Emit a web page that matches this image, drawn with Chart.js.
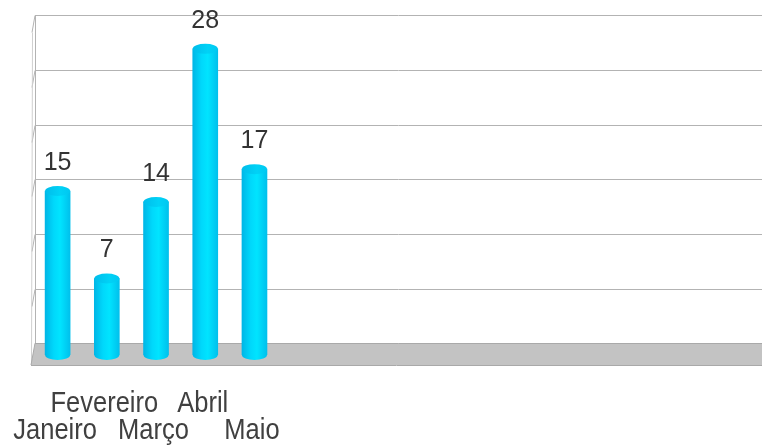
<!DOCTYPE html>
<html>
<head>
<meta charset="utf-8">
<script src="https://cdn.jsdelivr.net/npm/chart.js@4/dist/chart.umd.min.js"></script>
<style>
  html, body { margin: 0; padding: 0; background: #ffffff; }
  #wrap { width: 762px; height: 446px; }
</style>
</head>
<body>
<div id="wrap"><canvas id="c" width="762" height="446"></canvas></div>
<script>
// Monthly totals
const months = ['Janeiro', 'Fevereiro', 'Março', 'Abril', 'Maio'];
const values = [15, 7, 14, 28, 17];
const slotCount = 14;            // category slots along the floor
const yTicks = [0, 5, 10, 15, 20, 25, 30];

const labels = [];
for (let i = 0; i < slotCount; i++) labels.push(i < months.length ? months[i] : '');
const data = labels.map((_, i) => (i < values.length ? values[i] : null));

const DEPTH_DY = 11.7;   // back wall sits this far above the front plane
const RX = 12.5, RY = 5; // cylinder radius and cap ellipse half-height

function bodyGradient(ctx, x) {
  const g = ctx.createLinearGradient(x - RX, 0, x + RX, 0);
  g.addColorStop(0, '#00b6e6');
  g.addColorStop(0.35, '#00d8fb');
  g.addColorStop(0.6, '#00e4ff');
  g.addColorStop(1, '#00c0ec');
  return g;
}
function capGradient(ctx, x) {
  const g = ctx.createLinearGradient(x - RX, 0, x + RX, 0);
  g.addColorStop(0, '#00bdeb');
  g.addColorStop(0.6, '#00d2f6');
  g.addColorStop(1, '#00c8f1');
  return g;
}

// Back wall, side wall and floor of the 3D box
const boxPlugin = {
  id: 'box3d',
  beforeDatasetsDraw(chart) {
    const { ctx, chartArea, scales } = chart;
    const y = scales.y;
    const backX = chartArea.left + 2;
    const frontX = backX - 4;
    const right = chart.width;
    const zeroBack = y.getPixelForValue(0) - DEPTH_DY;
    const zeroFront = y.getPixelForValue(0) + 10;
    ctx.save();
    ctx.lineWidth = 1;
    ctx.strokeStyle = '#b3b3b3';
    // gridlines on the back wall and their side-wall continuation
    yTicks.forEach(v => {
      if (v === 0) return;
      const gy = Math.round(y.getPixelForValue(v) - DEPTH_DY) + 0.5;
      ctx.beginPath();
      ctx.moveTo(backX, gy);
      ctx.lineTo(right, gy);
      ctx.stroke();
      ctx.beginPath();
      ctx.moveTo(backX, gy);
      ctx.lineTo(backX - 3, gy + 17);
      ctx.stroke();
    });
    // wall edges
    const topBack = Math.round(y.getPixelForValue(30) - DEPTH_DY) + 0.5;
    ctx.beginPath();
    ctx.moveTo(backX + 0.5, topBack);
    ctx.lineTo(backX + 0.5, zeroBack);
    ctx.stroke();
    ctx.strokeStyle = '#cfcfcf';
    ctx.beginPath();
    ctx.moveTo(backX - 2.5, topBack + 17);
    ctx.lineTo(frontX + 0.5, zeroFront);
    ctx.stroke();
    // floor
    ctx.fillStyle = '#c3c3c3';
    ctx.beginPath();
    ctx.moveTo(backX, zeroBack);
    ctx.lineTo(right, zeroBack);
    ctx.lineTo(right, zeroFront);
    ctx.lineTo(frontX, zeroFront);
    ctx.closePath();
    ctx.fill();
    ctx.strokeStyle = '#a9a9a9';
    ctx.beginPath();
    ctx.moveTo(backX, Math.round(zeroBack) + 0.5);
    ctx.lineTo(right, Math.round(zeroBack) + 0.5);
    ctx.moveTo(frontX, Math.round(zeroFront) + 0.5);
    ctx.lineTo(right, Math.round(zeroFront) + 0.5);
    ctx.moveTo(backX, zeroBack);
    ctx.lineTo(frontX, zeroFront);
    ctx.stroke();
    ctx.restore();
  },
  // round bottoms, top caps and value labels for the cylinders
  afterDatasetsDraw(chart) {
    const { ctx } = chart;
    const meta = chart.getDatasetMeta(0);
    ctx.save();
    meta.data.forEach((el, i) => {
      const v = chart.data.datasets[0].data[i];
      if (v === null || v === undefined) return;
      const x = el.x;
      ctx.fillStyle = bodyGradient(ctx, x);
      ctx.beginPath();
      ctx.ellipse(x, el.base, RX, RY, 0, 0, Math.PI);
      ctx.fill();
      ctx.fillStyle = capGradient(ctx, x);
      ctx.beginPath();
      ctx.ellipse(x, el.y, RX, RY, 0, 0, Math.PI * 2);
      ctx.fill();
      ctx.fillStyle = '#333333';
      ctx.font = '25px "Liberation Sans", Arial, sans-serif';
      ctx.textAlign = 'center';
      ctx.textBaseline = 'alphabetic';
      ctx.fillText(String(v), x, el.y - 21);
    });
    ctx.restore();
  }
};

// Category names in two staggered rows, set in a condensed face
const monthLabelPlugin = {
  id: 'monthLabels',
  afterDraw(chart) {
    const { ctx, chartArea, scales } = chart;
    const xs = scales.x;
    ctx.save();
    ctx.fillStyle = '#404040';
    ctx.font = '29px "Liberation Sans", Arial, sans-serif';
    ctx.textAlign = 'center';
    ctx.textBaseline = 'alphabetic';
    months.forEach((m, i) => {
      const cx = xs.getPixelForValue(i) - 2.5;
      const by = chartArea.bottom + (i % 2 === 0 ? 84 : 57);
      ctx.save();
      ctx.translate(cx, by);
      ctx.scale(0.88, 1);
      ctx.fillText(m, 0, 0);
      ctx.restore();
    });
    ctx.restore();
  }
};

new Chart(document.getElementById('c'), {
  type: 'bar',
  data: {
    labels: labels,
    datasets: [{
      data: data,
      barThickness: 25,
      borderWidth: 0,
      backgroundColor: (c) => {
        const xs = c.chart.scales && c.chart.scales.x;
        if (!xs || c.dataIndex === undefined) return '#00d8fb';
        const px = xs.getPixelForValue(c.dataIndex);
        if (!isFinite(px)) return '#00d8fb';
        return bodyGradient(c.chart.ctx, px);
      }
    }]
  },
  options: {
    responsive: false,
    animation: false,
    devicePixelRatio: 1,
    layout: { padding: { left: 33, right: 40, top: 27, bottom: 0 } },
    plugins: { legend: { display: false }, tooltip: { enabled: false } },
    scales: {
      x: {
        offset: true,
        grid: { display: false, drawTicks: false },
        border: { display: false },
        ticks: { display: false, autoSkip: false },
        afterFit(scale) {
          scale.height = 91;
          scale.paddingLeft = 0;
          scale.paddingRight = 0;
        }
      },
      y: {
        display: false,
        min: 0,
        max: 30,
        ticks: { stepSize: 5 }
      }
    }
  },
  plugins: [boxPlugin, monthLabelPlugin]
});
</script>
</body>
</html>
